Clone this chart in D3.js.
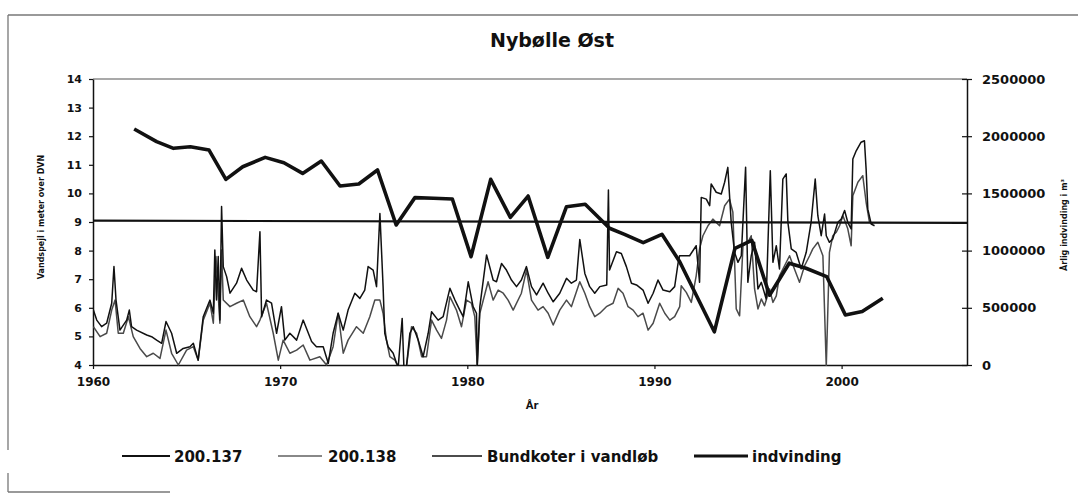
<!DOCTYPE html>
<html><head><meta charset="utf-8">
<script src="https://cdn.jsdelivr.net/npm/d3@7"></script>
<style>
html,body{margin:0;padding:0;background:#fff;}
svg{display:block;}
text{font-family:"DejaVu Sans",sans-serif;font-weight:bold;fill:#111;}
</style></head>
<body>
<svg id="chart" width="1078" height="493"></svg>
<script>
// ---- data ----
const title = "Nybølle Øst";
const leftTicks = [4,5,6,7,8,9,10,11,12,13,14];
const rightTicks = [0,500000,1000000,1500000,2000000,2500000];
const xTicks = [1960,1970,1980,1990,2000];
const seriesNames = ["200.137","200.138","Bundkoter i vandløb","indvinding"];

// 200.137 water level (m DVN)  [year, value]
const s137 = [
[1960.02,5.92],[1960.20,5.57],[1960.46,5.34],[1960.73,5.46],[1961.00,6.16],[1961.12,7.44],[1961.23,6.27],[1961.44,5.22],
[1961.80,5.57],[1961.94,5.92],[1962.06,5.34],[1962.33,5.22],[1962.87,5.05],[1963.13,4.99],[1963.40,4.87],[1963.67,4.76],
[1963.90,5.52],[1964.20,5.11],[1964.47,4.41],[1964.82,4.58],[1965.18,4.64],[1965.36,4.76],[1965.62,4.17],[1965.89,5.69],
[1966.25,6.27],[1966.43,5.81],[1966.51,8.02],[1966.60,6.27],[1966.69,7.79],[1966.78,5.57],[1966.87,9.54],[1966.96,7.44],
[1967.14,7.09],[1967.32,6.51],[1967.67,6.86],[1967.94,7.38],[1968.21,6.97],[1968.56,6.62],[1968.74,6.56],[1968.92,8.66],
[1969.01,5.69],[1969.27,6.27],[1969.54,6.16],[1969.81,5.11],[1970.07,6.04],[1970.25,4.87],[1970.52,5.11],[1970.88,4.87],
[1971.23,5.57],[1971.68,4.82],[1971.94,4.64],[1972.30,4.64],[1972.57,4.06],[1972.83,5.11],[1973.10,5.81],[1973.37,5.22],
[1973.63,5.92],[1973.99,6.51],[1974.26,6.33],[1974.52,6.62],[1974.70,7.44],[1974.97,7.32],[1975.15,6.74],[1975.33,9.30],
[1975.50,6.74],[1975.59,5.11],[1975.77,4.64],[1976.04,4.41],[1976.22,4.06],[1976.31,3.95],[1976.52,5.63],[1976.61,3.95],
[1976.75,3.95],[1976.93,5.11],[1977.11,5.34],[1977.38,4.87],[1977.64,4.29],[1977.91,5.11],[1978.09,5.86],[1978.44,5.57],
[1978.71,5.69],[1979.07,6.68],[1979.34,6.27],[1979.60,5.92],[1979.78,5.69],[1980.05,6.91],[1980.31,6.04],[1980.49,5.81],
[1980.53,3.95],[1980.67,6.04],[1981.03,7.85],[1981.38,6.97],[1981.56,6.91],[1981.83,7.55],[1982.09,7.32],[1982.36,6.97],
[1982.63,6.74],[1982.89,6.97],[1983.16,7.44],[1983.43,6.74],[1983.70,6.45],[1984.05,6.86],[1984.32,6.51],[1984.59,6.21],
[1984.94,6.51],[1985.30,7.03],[1985.56,6.86],[1985.83,6.97],[1986.01,8.39],[1986.28,7.20],[1986.54,6.74],[1986.81,6.51],
[1987.08,6.74],[1987.45,6.80],[1987.54,10.12],[1987.60,7.32],[1987.97,7.96],[1988.23,7.90],[1988.50,7.44],[1988.77,6.86],
[1989.04,6.80],[1989.39,6.62],[1989.66,6.16],[1989.93,6.51],[1990.19,6.97],[1990.46,6.62],[1990.82,6.56],[1991.08,6.74],
[1991.26,7.55],[1991.34,7.82],[1991.88,7.82],[1992.23,8.17],[1992.41,6.89],[1992.50,9.86],[1992.77,9.80],[1992.95,9.57],
[1993.03,10.33],[1993.30,10.04],[1993.57,9.98],[1993.75,10.39],[1993.92,10.91],[1994.10,8.99],[1994.28,7.94],[1994.46,7.59],
[1994.64,7.82],[1994.87,10.91],[1994.99,6.89],[1995.17,7.82],[1995.35,8.29],[1995.53,6.66],[1995.71,6.89],[1995.97,6.31],
[1996.19,10.79],[1996.33,7.59],[1996.51,8.17],[1996.68,7.36],[1996.86,10.50],[1997.04,10.68],[1997.13,8.99],[1997.31,8.06],
[1997.57,7.94],[1997.84,7.36],[1998.11,7.94],[1998.37,8.99],[1998.59,10.50],[1998.73,9.22],[1998.91,8.52],[1999.09,9.28],
[1999.18,8.52],[1999.35,8.29],[1999.53,8.41],[1999.80,8.99],[1999.98,9.10],[2000.16,9.40],[2000.33,8.99],[2000.51,8.76],
[2000.60,11.20],[2000.78,11.49],[2001.04,11.79],[2001.22,11.84],[2001.31,10.85],[2001.40,9.45],[2001.58,8.93],[2001.76,8.87]
];

// 200.138 water level (m DVN)  [year, value]
const s138 = [
[1960.02,5.34],[1960.38,4.99],[1960.73,5.11],[1961.00,5.92],[1961.18,6.27],[1961.35,5.11],[1961.62,5.11],[1961.89,5.69],
[1962.15,4.99],[1962.51,4.58],[1962.87,4.29],[1963.22,4.41],[1963.58,4.23],[1963.90,5.22],[1964.20,4.41],[1964.56,4.00],
[1965.00,4.52],[1965.36,4.64],[1965.62,4.17],[1965.89,5.57],[1966.25,6.16],[1966.43,5.46],[1966.57,7.79],[1966.78,5.46],
[1966.87,8.02],[1966.96,6.27],[1967.32,6.04],[1967.67,6.16],[1968.03,6.27],[1968.38,5.69],[1968.74,5.34],[1968.92,5.57],
[1969.27,6.16],[1969.63,5.11],[1969.90,4.17],[1970.16,4.87],[1970.52,4.41],[1970.88,4.52],[1971.23,4.70],[1971.59,4.17],
[1972.12,4.29],[1972.48,4.00],[1972.83,4.64],[1973.10,5.81],[1973.37,4.41],[1973.63,4.87],[1974.08,5.34],[1974.44,5.11],
[1974.79,5.69],[1975.06,6.27],[1975.33,6.27],[1975.50,5.81],[1975.68,4.87],[1975.86,4.29],[1976.13,4.17],[1976.31,3.95],
[1976.58,3.95],[1976.75,3.95],[1977.02,5.34],[1977.29,5.11],[1977.56,4.29],[1977.82,4.29],[1978.09,5.57],[1978.36,5.22],
[1978.62,4.93],[1978.89,5.57],[1979.07,6.39],[1979.42,5.92],[1979.69,5.34],[1979.96,6.27],[1980.22,6.16],[1980.40,5.69],
[1980.53,3.95],[1980.67,5.81],[1981.11,6.91],[1981.38,6.27],[1981.65,6.62],[1981.92,6.51],[1982.18,6.27],[1982.45,5.92],
[1982.89,6.51],[1983.16,7.32],[1983.43,6.27],[1983.78,5.92],[1984.05,6.04],[1984.32,5.81],[1984.59,5.40],[1984.94,5.92],
[1985.30,6.27],[1985.56,6.04],[1986.01,6.91],[1986.28,6.51],[1986.54,6.04],[1986.81,5.69],[1987.08,5.81],[1987.43,6.04],
[1987.79,6.16],[1988.06,6.68],[1988.32,6.51],[1988.59,6.04],[1988.86,5.92],[1989.12,5.69],[1989.39,5.81],[1989.66,5.22],
[1989.93,5.46],[1990.28,6.16],[1990.55,5.81],[1990.82,5.57],[1991.08,5.69],[1991.35,6.04],[1991.43,6.77],[1991.70,6.54],
[1991.97,6.19],[1992.23,7.12],[1992.41,8.06],[1992.59,8.52],[1992.86,8.87],[1993.12,9.10],[1993.48,8.87],[1993.75,9.57],
[1994.01,9.80],[1994.19,9.34],[1994.37,5.96],[1994.55,5.72],[1994.73,8.17],[1994.99,8.29],[1995.17,8.52],[1995.35,6.66],
[1995.53,5.96],[1995.71,6.31],[1995.88,6.07],[1996.15,6.66],[1996.33,6.19],[1996.51,6.42],[1996.68,7.12],[1996.95,7.47],
[1997.22,7.82],[1997.48,7.36],[1997.75,6.89],[1998.02,7.47],[1998.29,7.82],[1998.46,8.06],[1998.73,8.29],[1999.00,7.82],
[1999.18,3.95],[1999.35,7.94],[1999.53,8.52],[1999.71,8.64],[1999.89,8.87],[2000.07,9.22],[2000.33,8.76],[2000.51,8.17],
[2000.60,9.92],[2000.87,10.39],[2001.13,10.62],[2001.31,9.69],[2001.49,8.99],[2001.67,8.93]
];

// Bundkoter i vandløb (m DVN)
const bundkoter = [[1960,9.05],[1983,9.01],[2006.7,8.97]];

// indvinding (m3 per year), right axis
const indvinding = [
[1962.2,2063000],[1963.4,1952000],[1964.3,1894000],[1965.2,1908000],[1966.2,1879000],[1967.1,1623000],[1968.0,1733000],
[1969.2,1815000],[1970.2,1768000],[1971.2,1675000],[1972.2,1783000],[1973.2,1565000],[1974.2,1582000],[1975.2,1705000],
[1976.2,1224000],[1977.2,1463000],[1978.2,1457000],[1979.2,1451000],[1980.2,947000],[1981.25,1623000],[1982.3,1291000],
[1983.25,1477000],[1984.3,941000],[1985.3,1384000],[1986.3,1405000],[1987.6,1195000],[1988.4,1142000],[1989.4,1069000],
[1990.4,1142000],[1991.35,903000],[1993.2,290000],[1994.3,1020000],[1995.2,1090000],[1996.15,610000],[1997.2,890000],
[1998.1,846000],[1999.2,773000],[2000.2,438000],[2001.1,467000],[2002.2,583000]
];

// ---- drawing ----
const svg = d3.select("#chart");
const L = 93, R = 967, T = 79, B = 365;

const x = d3.scaleLinear().domain([1960, 2006.7]).range([L, R]);
const yL = d3.scaleLinear().domain([4, 14]).range([B, T]);
const yR = d3.scaleLinear().domain([0, 2500000]).range([B, T]);

svg.append("rect").attr("width",1078).attr("height",493).attr("fill","#fff");

// outer frame (scanned page border)
const frame = svg.append("g").attr("stroke","#777").attr("stroke-width",1.3).attr("fill","none");
frame.append("line").attr("x1",8).attr("x2",1078).attr("y1",15).attr("y2",15);
frame.append("line").attr("x1",8).attr("x2",8).attr("y1",15).attr("y2",450);
frame.append("line").attr("x1",8).attr("x2",8).attr("y1",473).attr("y2",492);
frame.append("line").attr("x1",8).attr("x2",170).attr("y1",492).attr("y2",492);

// title
svg.append("text").attr("x",552).attr("y",47).attr("text-anchor","middle")
  .style("font-size","19px").text(title);

// plot top border
svg.append("line").attr("x1",L).attr("x2",R).attr("y1",T).attr("y2",T)
  .attr("stroke","#555").attr("stroke-width",1.2);

svg.append("clipPath").attr("id","clip").append("rect")
  .attr("x",L).attr("y",T-2).attr("width",R-L).attr("height",B-T+3);

// axes
const axL = svg.append("g").attr("transform",`translate(${L},0)`)
  .call(d3.axisLeft(yL).tickValues(leftTicks).tickSize(4).tickSizeOuter(0).tickPadding(7).tickFormat(d3.format("d")));
axL.selectAll("text").style("font-size","11px");

const axR = svg.append("g").attr("transform",`translate(${R},0)`)
  .call(d3.axisRight(yR).tickValues(rightTicks).tickSize(5).tickSizeOuter(0).tickPadding(10).tickFormat(d3.format("d")));
axR.selectAll(".tick line").attr("x1",-5);
axR.selectAll("text").style("font-size","13px");

const axB = svg.append("g").attr("transform",`translate(0,${B})`)
  .call(d3.axisBottom(x).tickValues(xTicks).tickSize(4).tickSizeOuter(0).tickPadding(8).tickFormat(d3.format("d")));
axB.selectAll("text").style("font-size","12px");

[axL,axR,axB].forEach(a=>{
  a.select(".domain").attr("stroke","#111").attr("stroke-width",1.5);
  a.selectAll(".tick line").attr("stroke","#111").attr("stroke-width",1.2);
  a.selectAll("text").attr("fill","#111").style("font-family","'DejaVu Sans',sans-serif").style("font-weight","bold");
});

// axis titles
svg.append("text").attr("transform","translate(44,217) rotate(-90)").attr("text-anchor","middle")
  .style("font-size","8px").text("Vandspejl i meter over DVN");
svg.append("text").attr("transform","translate(1067,225) rotate(-90)").attr("text-anchor","middle")
  .style("font-size","8px").text("Årlig indvinding i m³");
svg.append("text").attr("x",532).attr("y",409).attr("text-anchor","middle")
  .style("font-size","10px").text("År");

// lines
const lineL = d3.line().x(d=>x(d[0])).y(d=>yL(d[1]));
const lineR = d3.line().x(d=>x(d[0])).y(d=>yR(d[1]));
const plot = svg.append("g").attr("clip-path","url(#clip)");

const styles = [
  {data:s138, gen:lineL, stroke:"#4a4a4a", w:1.5},
  {data:s137, gen:lineL, stroke:"#111", w:1.5},
  {data:bundkoter, gen:lineL, stroke:"#111", w:2.2},
  {data:indvinding, gen:lineR, stroke:"#111", w:3.6}
];
styles.forEach(s=>{
  plot.append("path").datum(s.data).attr("d",s.gen).attr("fill","none")
    .attr("stroke",s.stroke).attr("stroke-width",s.w).attr("stroke-linejoin","round");
});

// legend
const legY = 456;
const legItems = [
  {name:seriesNames[0], x1:122, x2:170, tx:174, stroke:"#111", w:2},
  {name:seriesNames[1], x1:278, x2:322, tx:328, stroke:"#888", w:2},
  {name:seriesNames[2], x1:432, x2:482, tx:487, stroke:"#111", w:1.6},
  {name:seriesNames[3], x1:694, x2:748, tx:752, stroke:"#111", w:3}
];
const leg = svg.append("g");
legItems.forEach(it=>{
  leg.append("line").attr("x1",it.x1).attr("x2",it.x2).attr("y1",legY).attr("y2",legY)
    .attr("stroke",it.stroke).attr("stroke-width",it.w);
  leg.append("text").attr("x",it.tx).attr("y",legY+6).style("font-size","15px").text(it.name);
});
</script>
</body></html>
